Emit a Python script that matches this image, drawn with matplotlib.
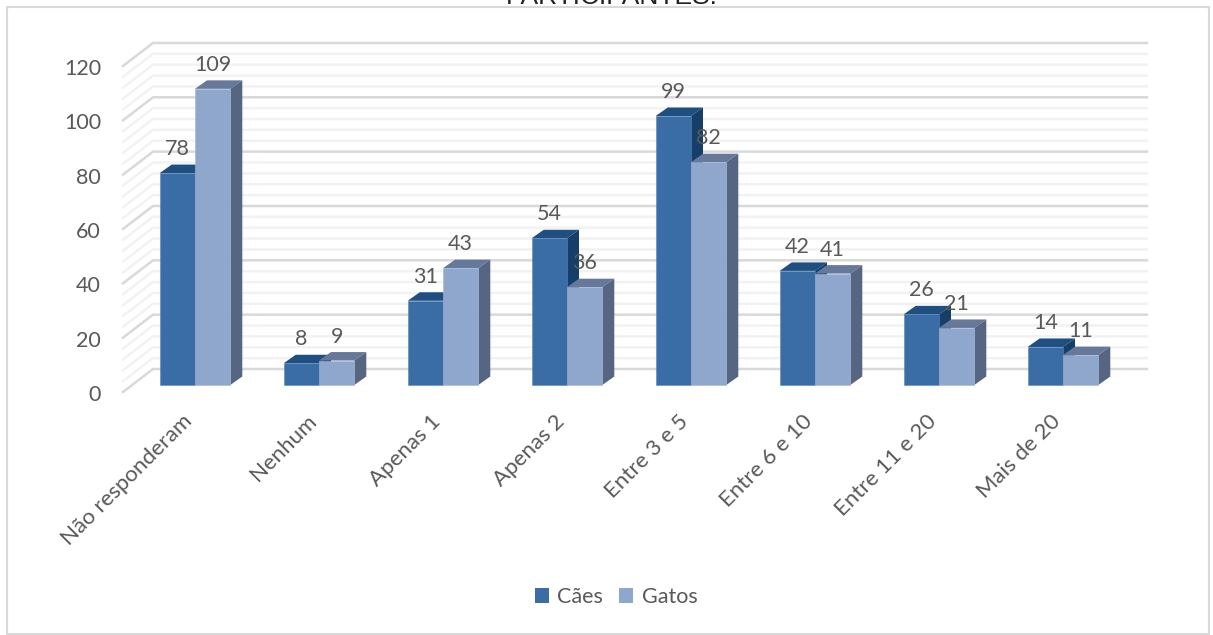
import numpy as np
import matplotlib
matplotlib.use('Agg')
import matplotlib.pyplot as plt
from matplotlib.patches import Polygon, Patch, Rectangle

# Dados
categorias = ['Não responderam', 'Nenhum', 'Apenas 1', 'Apenas 2', 'Entre 3 e 5',
              'Entre 6 e 10', 'Entre 11 e 20', 'Mais de 20']
caes = [78, 8, 31, 54, 99, 42, 26, 14]
gatos = [109, 9, 43, 36, 82, 41, 21, 11]
ticks_y = [0, 20, 40, 60, 80, 100, 120]
titulo = 'PARTICIPANTES:'

plt.rcParams['font.family'] = ['Lato', 'DejaVu Sans']

W, H = 1213, 635
PX_X = 124.0    # pixels por categoria
PX_Y = 2.717    # pixels por unidade
X0, Y0 = 195, 385

fig = plt.figure(figsize=(W / 100, H / 100), dpi=100, facecolor='white')
ax = fig.add_axes([0, 0, 1, 1])
ax.set_xlim(-X0 / PX_X, (W - X0) / PX_X)
ax.set_ylim(-(H - Y0) / PX_Y, Y0 / PX_Y)
ax.axis('off')

# Moldura
fig.add_artist(Rectangle((6.5 / W, 1 - 633.5 / H), 1202.5 / W, 627 / H, transform=fig.transFigure,
                         facecolor='none', edgecolor='#d9d9d9', linewidth=1.5))

# Titulo cortado no topo da imagem
fig.text(612 / W, 1 - 3.5 / H, titulo, family='Liberation Sans', fontsize=19, color='#222222',
         ha='center', va='baseline')

# Grade 3D
x_frente = -72 / PX_X
x_fundo = -42 / PX_X
x_fim = 952 / PX_X
y_frente = -7 / PX_Y
y_fundo = 16 / PX_Y
for v in np.arange(0, 121, 4):
    if v % 20 == 0:
        cor, lw = '#d9d9d9', 1.8
    else:
        cor, lw = '#f2f2f2', 1.8
    ax.plot([x_frente, x_fundo, x_fim], [v + y_frente, v + y_fundo, v + y_fundo],
            color=cor, linewidth=lw, zorder=2 if v % 20 == 0 else 1, solid_joinstyle='miter')

# Barras 3D
largura = 35.3 / PX_X
prof_x = 12 / PX_X
prof_y = 8.5 / PX_Y
estilos = [
    (caes, -largura / 2, '#3a6ca6', '#1f4e80', '#153f69', '#5b87bb'),
    (gatos, largura / 2, '#8fa6cd', '#67799b', '#566582', '#a3b6d7'),
]
z = 3
for i in range(len(categorias)):
    for valores, desl, frente, topo, lado, borda in estilos:
        x = i + desl
        v = valores[i]
        e, d = x - largura / 2, x + largura / 2
        ax.add_patch(Polygon([(e, v), (e + prof_x, v + prof_y), (d + prof_x, v + prof_y), (d, v)],
                             facecolor=topo, edgecolor='none', zorder=z))
        ax.add_patch(Polygon([(d, 0), (d + prof_x, prof_y), (d + prof_x, v + prof_y), (d, v)],
                             facecolor=lado, edgecolor='none', zorder=z))
        ax.bar(x, v, width=largura, color=frente, edgecolor=borda, linewidth=0.4, zorder=z + 0.5)
        z += 1
        ax.text(x, v + 24 / PX_Y, str(v), fontsize=15.5, color='#595959', ha='center', va='center', zorder=50)

# Eixo y
for v in ticks_y:
    ax.text(-94 / PX_X, v + y_frente - 3 / PX_Y, str(v), fontsize=15.5, color='#595959',
            ha='right', va='center')

# Eixo x
for i, nome in enumerate(categorias):
    ax.text(i - 0.045, -33 / PX_Y, nome, fontsize=16, color='#595959', rotation=45,
            rotation_mode='anchor', ha='right', va='center')

# Legenda
handles = [Patch(facecolor='#3a6ca6', label='Cães'), Patch(facecolor='#8fa6cd', label='Gatos')]
fig.legend(handles=handles, loc='center', bbox_to_anchor=(616 / W, 1 - 597 / H), ncol=2, frameon=False,
           fontsize=15.5, handlelength=0.65, handleheight=0.65, handletextpad=0.4, columnspacing=0.75,
           labelcolor='#595959')

plt.savefig('out.png', dpi=100)
